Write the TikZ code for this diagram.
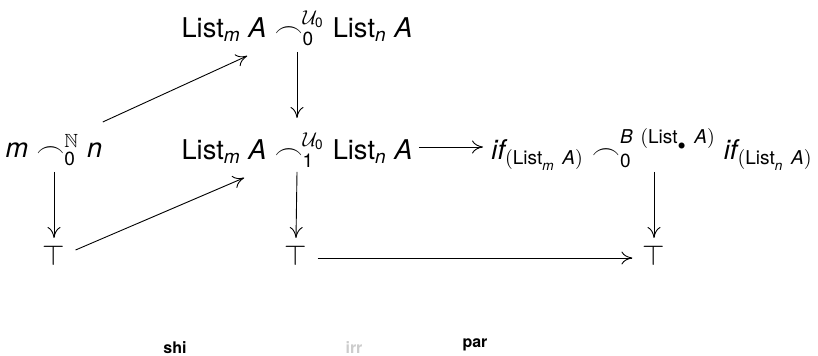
\documentclass[tikz,border=0pt]{standalone}
\usepackage{amssymb}
\usepackage{fontspec}
\setmainfont{TeX Gyre Heros}
\usetikzlibrary{arrows.meta,calc}
\begin{document}
\begin{tikzpicture}[x=0.5pt,y=-0.5pt,
  every node/.style={inner sep=0pt,font=\fontsize{13.6}{16}\selectfont},
  arr/.style={-{To[length=5.5pt,width=6.5pt]},line width=0.45pt},
  lbl/.style={font=\fontsize{8}{10}\selectfont\bfseries}]
\useasboundingbox (0,0) rectangle (818,356);
\node (top) at (297,28) {$\mathrm{List}_{\mathit{m}}\ \mathit{A}\frown^{\mathcal{U}_{\mathrm{0}}}_{\mathrm{0}}\mathrm{List}_{\mathit{n}}\ \mathit{A}$};
\node (mid) at (297,150) {$\mathrm{List}_{\mathit{m}}\ \mathit{A}\frown^{\mathcal{U}_{\mathrm{0}}}_{\mathrm{1}}\mathrm{List}_{\mathit{n}}\ \mathit{A}$};
\node (mn) at (54,150) {$\mathit{m}\frown^{\mathbb{N}}_{\mathrm{0}}\mathit{n}$};
\node (rt) at (652,150) {$\mathit{if}_{\mathrm{(List}_{\mathit{m}}\ \mathit{A}\mathrm{)}}\frown^{\mathit{B}\ \mathrm{(List}_{\bullet}\ \mathit{A}\mathrm{)}}_{\mathrm{0}}\mathit{if}_{\mathrm{(List}_{\mathit{n}}\ \mathit{A}\mathrm{)}}$};
\node (t1) at (54,256) {$\top$};
\node (t2) at (296,256) {$\top$};
\node (t3) at (654,256) {$\top$};
\draw[arr] (top.south |- 0,52) -- (mid.north |- 0,118);
\draw[arr] (mn.north east |- 104,122) -- ($(top.south west)+(66,10)$);
\draw[arr] (mn.south |- 0,172) -- (t1.north |- 0,238);
\draw[arr] ($(t1.east)+(10,-6)$) -- ($(mid.south west)+(63,10)$);
\draw[arr] (mid.south |- 0,172) -- (t2.north |- 0,238);
\draw[arr] ($(mid.east)+(6,-3)$) -- ($(rt.west)+(-8,-3)$);
\draw[arr] (654,172) -- (t3.north |- 0,238);
\draw[arr] ($(t2.east)+(10,2)$) -- ($(t3.west)+(-10,2)$);
\node[lbl] (shi) at (175,348) {shi};
\node[lbl,text=black!20] (irr) at (354,348) {irr};
\node[lbl] (par) at (475,345) {par};
\end{tikzpicture}
\end{document}
